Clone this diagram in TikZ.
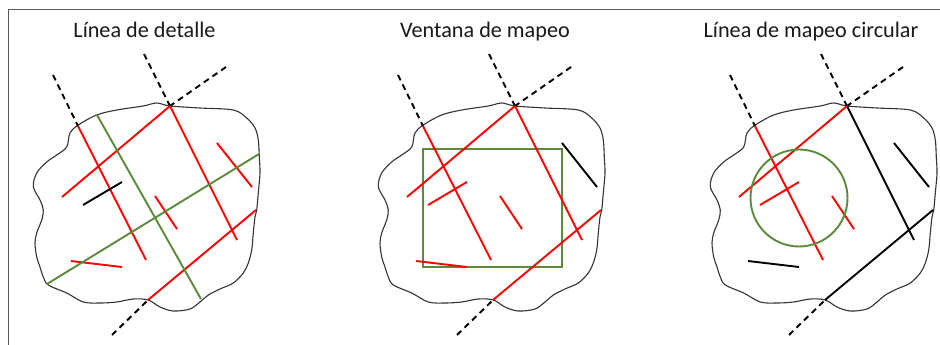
\documentclass[tikz,border=0pt]{standalone}
\usepackage{fontspec}
\setmainfont{Carlito}
\definecolor{frgreen}{HTML}{5B8A3A}
\definecolor{frred}{HTML}{FF0000}
\definecolor{framec}{HTML}{5A5A5A}
\definecolor{blobc}{HTML}{333333}
\tikzset{
  blob/.style={draw=blobc, line width=1.1pt},
  frac/.style={line width=1.9pt},
  dashln/.style={black, line width=1.9pt, dash pattern=on 6pt off 4.5pt},
  grn/.style={frgreen, line width=1.9pt},
  ttl/.style={font=\fontsize{22.2}{26}\selectfont, text=black!90, inner sep=0pt},
}
\newcommand\fracnet{%
  \draw[blob] plot[smooth cycle, tension=0.55] coordinates {
    (33.3,186.7) (40,200) (43.3,210) (41.7,220) (36.7,233) (35,243) (36.7,257)
    (40,267) (43.3,277) (48.3,285) (66.7,293) (83.3,302) (100,303) (116.7,302)
    (133.3,299) (148.3,300) (160,307) (173.3,311) (190,309) (200,302) (208.3,295)
    (220,289) (233.3,283) (243.3,273) (248.3,263) (251.7,250) (253.3,233) (255,217)
    (256.7,210) (258.3,193) (260,173) (259.3,157) (258.3,140) (255,128) (246.7,118)
    (233.3,110) (200,108) (170,106) (156.7,103) (143.3,106) (116.7,110) (96.7,115)
    (78.3,125) (70,133) (66.7,147) (56.7,155) (46.7,162) (36.7,173)};
  \draw[dashln] (53,75) -- (78,126);
  \draw[dashln] (144,54) -- (170,106);
  \draw[dashln] (226,67) -- (170,106);
  \draw[dashln] (112,335) -- (148,300);
}
\newcommand\fraclines{%
  \draw[frac,kLa] (78,126) -- (146,260);
  \draw[frac,kLb] (170,106) -- (237,240);
  \draw[frac,kLc] (170,106) -- (62,197);
  \draw[frac,kLd] (148,300) -- (256,210);
  \draw[frac,kSa] (217,143) -- (252,187);
  \draw[frac,kSb] (155,196) -- (177,229);
  \draw[frac,kSc] (71,261) -- (122,267);
  \draw[frac,kSd] (83,205) -- (122,182);
}
\begin{document}
\begin{tikzpicture}[x=1pt,y=-1pt]
\useasboundingbox (0,0) rectangle (940,345);
\fill[white] (0,0) rectangle (940,345);
\draw[framec, line width=1.3pt] (8.5,346) -- (8.5,9.5) -- (941,9.5);
\node[ttl, anchor=base] (t1) at (144.5,37.3) {Línea de detalle};
\node[ttl, anchor=base] (t2) at (485,37.3) {Ventana de mapeo};
\node[ttl, anchor=base] (t3) at (811,37.3) {Línea de mapeo circular};
% panel 1
\begin{scope}
  \tikzset{kLa/.style={frred},kLb/.style={frred},kLc/.style={frred},kLd/.style={frred},
           kSa/.style={frred},kSb/.style={frred},kSc/.style={frred},kSd/.style={black}}
  \fracnet
  \fraclines
  \draw[grn] (97,115) -- (201,299);
  \draw[grn] (47,284) -- (259,154);
\end{scope}
% panel 2
\begin{scope}[xshift=345pt]
  \tikzset{kLa/.style={frred},kLb/.style={frred},kLc/.style={frred},kLd/.style={frred},
           kSa/.style={black},kSb/.style={frred},kSc/.style={frred},kSd/.style={frred}}
  \fracnet
  \draw[grn] (78,149) rectangle (217,267);
  \fraclines
\end{scope}
% panel 3
\begin{scope}[xshift=677pt]
  \tikzset{kLa/.style={frred},kLb/.style={black},kLc/.style={frred},kLd/.style={black},
           kSa/.style={black},kSb/.style={frred},kSc/.style={black},kSd/.style={frred}}
  \fracnet
  \fraclines
  \draw[grn] (122,198) circle[radius=48.5];
\end{scope}
\end{tikzpicture}
\end{document}
